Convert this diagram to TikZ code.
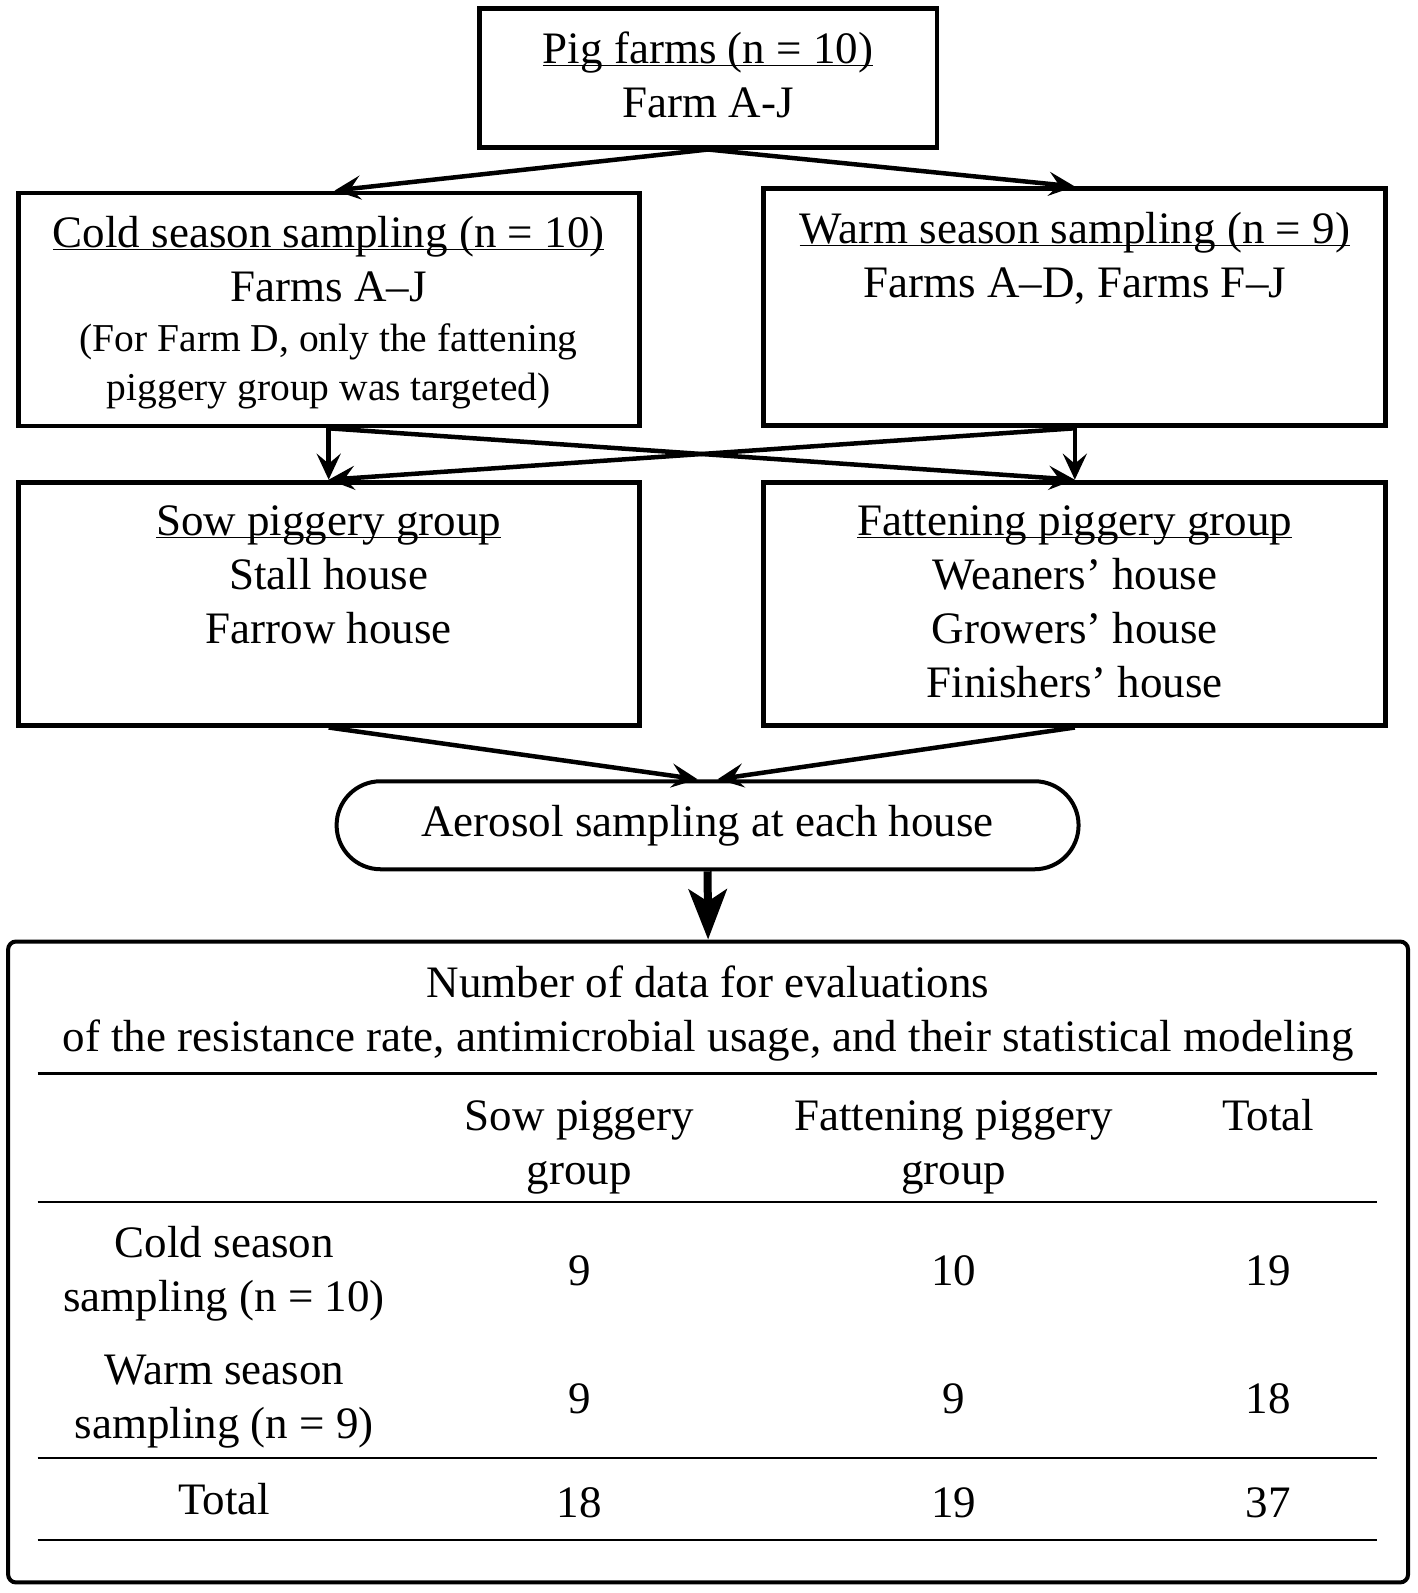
\documentclass[tikz,border=0pt]{standalone}
\usepackage{fontspec}
\setmainfont{Liberation Serif}
\usetikzlibrary{arrows.meta}

\newcommand{\bigtxt}{\fontsize{45}{54}\selectfont}
\newcommand{\smalltxt}{\fontsize{39.5}{49}\selectfont}
\newcommand{\ulin}[1]{\underline{\smash{#1}}\vphantom{#1}}

\tikzset{
  box/.style={rectangle, draw, line width=4.8pt, inner sep=0pt, minimum width=612pt},
  lbl/.style={align=center, inner sep=0pt, font=\bigtxt},
  arr/.style={-{Stealth[length=26pt,width=24pt,inset=10pt]}, line width=4.5pt},
  bigarr/.style={-{Stealth[length=50pt,width=38pt,inset=12pt]}, line width=8pt},
  rule/.style={line width=2.5pt},
}

\begin{document}
\begin{tikzpicture}[x=1.0145pt,y=-1.0145pt]
  \useasboundingbox (0,0) rectangle (1397.7,1570.3);

  % boxes
  \node[box, minimum width=458pt, minimum height=139pt] (farms) at (698,76.5) {};
  \node[box, minimum width=621pt, minimum height=233pt] (cold) at (324,305) {};
  \node[box, minimum width=622pt, minimum height=237pt] (warm) at (1059.5,303) {};
  \node[box, minimum width=621pt, minimum height=243pt] (sow) at (324,595) {};
  \node[box, minimum width=622pt, minimum height=243pt] (fat) at (1059.5,595) {};
  \node[box, line width=4pt, minimum width=742pt, minimum height=88pt,
        rounded corners=44pt] (aerosol) at (697.5,813.5) {};
  \node[box, line width=4pt, minimum width=1400pt, minimum height=641pt,
        rounded corners=8pt] (table) at (698,1244) {};

  % box texts
  \node[lbl, anchor=north] (farmstxt) at ([yshift=-26pt]farms.north)
       {\ulin{Pig farms (n = 10)}\\ Farm A-J};
  \node[lbl, anchor=north] (coldtxt) at ([yshift=-26pt]cold.north)
       {\ulin{Cold season sampling (n = 10)}\\ Farms A--J};
  \node[lbl, anchor=north, font=\smalltxt] (coldnote) at ([yshift=-21pt]coldtxt.south)
       {(For Farm D, only the fattening\\ piggery group was targeted)};
  \node[lbl, anchor=north] (warmtxt) at ([yshift=-26pt]warm.north)
       {\ulin{Warm season sampling (n = 9)}\\ Farms A--D, Farms F--J};
  \node[lbl, anchor=north] (sowtxt) at ([yshift=-26pt]sow.north)
       {\ulin{Sow piggery group}\\ Stall house\\ Farrow house};
  \node[lbl, anchor=north] (fattxt) at ([yshift=-26pt]fat.north)
       {\ulin{Fattening piggery group}\\ Weaners' house\\ Growers' house\\ Finishers' house};
  \node[lbl] (aerosoltxt) at (aerosol.center) {Aerosol sampling at each house};

  % arrows
  \draw[arr] (farms.south) -- ([xshift=6pt]cold.north);
  \draw[arr] (farms.south) -- (warm.north);
  \draw[arr] (cold.south) -- (sow.north);
  \draw[arr] (cold.south) -- (fat.north);
  \draw[arr] (warm.south) -- (fat.north);
  \draw[arr] (warm.south) -- (sow.north);
  \draw[arr] (sow.south) -- ([xshift=-10pt]aerosol.north);
  \draw[arr] (fat.south) -- ([xshift=10pt]aerosol.north);
  \draw[bigarr] (aerosol.south) -- (table.north);

  % table
  \node[lbl] (tabtitle) at (698,999) {Number of data for evaluations\\
       of the resistance rate, antimicrobial usage, and their statistical modeling};
  \draw[rule] (37,1058) -- (1357,1058);
  \draw[rule] (37,1185) -- (1357,1185);
  \draw[rule] (37,1437) -- (1357,1437);
  \draw[rule] (37,1518) -- (1357,1518);

  \node[lbl] (hsow) at (571,1131) {Sow piggery\\ group};
  \node[lbl] (hfat) at (940,1131) {Fattening piggery\\ group};
  \node[lbl] (htot) at (1250,1099) {Total};

  \node[lbl] (rcold) at (221,1256) {Cold season\\ sampling (n = 10)};
  \node[lbl] (cold1) at (571,1253) {9};
  \node[lbl] (cold2) at (940,1253) {10};
  \node[lbl] (cold3) at (1250,1253) {19};

  \node[lbl] (rwarm) at (221,1382) {Warm season\\ sampling (n = 9)};
  \node[lbl] (warm1) at (571,1379) {9};
  \node[lbl] (warm2) at (940,1379) {9};
  \node[lbl] (warm3) at (1250,1379) {18};

  \node[lbl] (rtot) at (221,1478) {Total};
  \node[lbl] (tot1) at (571,1481) {18};
  \node[lbl] (tot2) at (940,1481) {19};
  \node[lbl] (tot3) at (1250,1481) {37};
\end{tikzpicture}
\end{document}
